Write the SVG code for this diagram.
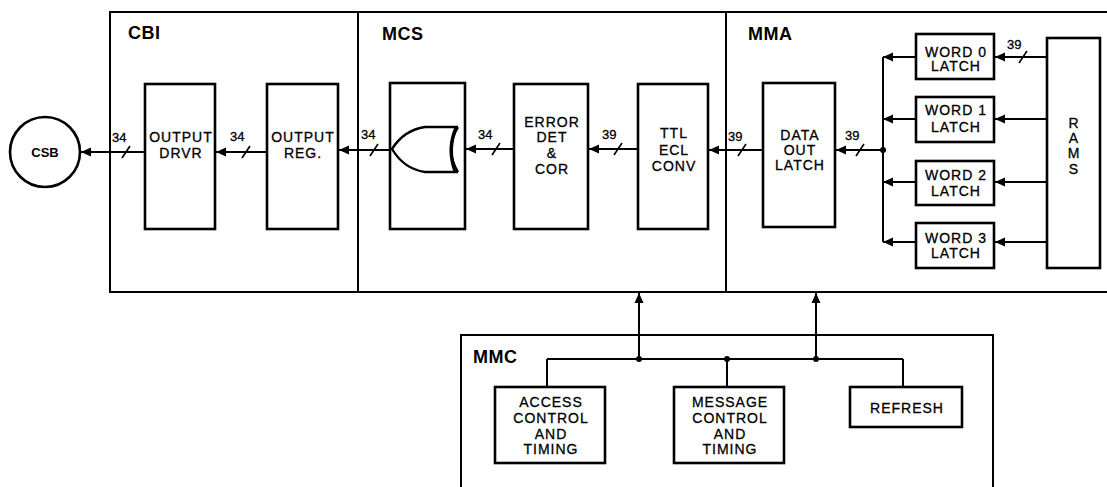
<svg xmlns="http://www.w3.org/2000/svg" width="1107" height="487" viewBox="0 0 1107 487">
<defs>
<marker id="ah" markerUnits="userSpaceOnUse" markerWidth="12" markerHeight="10" refX="10" refY="5" orient="auto">
<path d="M0,0.5 L10,5 L0,9.5 Z" fill="#000"/>
</marker>
<style>
.frame{fill:none;stroke:#000;stroke-width:2}
.box{fill:#fff;stroke:#000;stroke-width:2.6}
.ln{fill:none;stroke:#000;stroke-width:2}
.arr{fill:none;stroke:#000;stroke-width:2;marker-end:url(#ah)}
.sl{stroke:#000;stroke-width:1.6}
.t{font-family:"Liberation Sans",Arial,sans-serif;font-size:14px;letter-spacing:1px;text-anchor:middle;fill:#000;stroke:#000;stroke-width:0.3}
.n{font-family:"Liberation Sans",Arial,sans-serif;font-size:13px;fill:#000;stroke:#000;stroke-width:0.3}
.h{font-family:"Liberation Sans",Arial,sans-serif;font-size:18px;font-weight:bold;letter-spacing:0.5px;fill:#000}
.dot{fill:#000}
</style>
</defs>
<rect width="1107" height="487" fill="#fff"/>

<g id="frames">
<path class="frame" d="M1107,12 H110 V292 H1107"/>
<line class="frame" x1="358" y1="12" x2="358" y2="292"/>
<line class="frame" x1="726" y1="12" x2="726" y2="292"/>
<text class="h" x="128" y="39">CBI</text>
<text class="h" x="382" y="40">MCS</text>
<text class="h" x="748" y="40">MMA</text>
</g>

<g id="mmc">
<path class="frame" d="M461,487 V335 H993 V487"/>
<text class="h" x="473" y="363">MMC</text>
</g>

<g id="connectors">
<line class="arr" x1="145" y1="152" x2="81" y2="152"/>
<line class="arr" x1="267" y1="152" x2="216" y2="152"/>
<line class="arr" x1="390" y1="150" x2="339" y2="150"/>
<line class="arr" x1="514" y1="149" x2="466" y2="149"/>
<line class="arr" x1="638" y1="149" x2="589" y2="149"/>
<line class="arr" x1="763" y1="150" x2="709" y2="150"/>
<line class="arr" x1="883" y1="150" x2="836" y2="150"/>
<line class="ln" x1="883" y1="57" x2="883" y2="242"/>
<circle class="dot" cx="883" cy="150" r="3"/>
<line class="arr" x1="916" y1="57" x2="883" y2="57"/>
<line class="arr" x1="916" y1="119" x2="883" y2="119"/>
<line class="arr" x1="916" y1="182" x2="883" y2="182"/>
<line class="arr" x1="916" y1="242" x2="883" y2="242"/>
<line class="arr" x1="1047" y1="57" x2="995" y2="57"/>
<line class="arr" x1="1047" y1="119" x2="995" y2="119"/>
<line class="arr" x1="1047" y1="182" x2="995" y2="182"/>
<line class="arr" x1="1047" y1="242" x2="995" y2="242"/>
<line class="sl" x1="122" y1="158" x2="130" y2="146"/>
<line class="sl" x1="242" y1="158" x2="250" y2="146"/>
<line class="sl" x1="370" y1="156" x2="378" y2="144"/>
<line class="sl" x1="492" y1="155" x2="500" y2="143"/>
<line class="sl" x1="614" y1="155" x2="622" y2="143"/>
<line class="sl" x1="738" y1="156" x2="746" y2="144"/>
<line class="sl" x1="856" y1="156" x2="864" y2="144"/>
<line class="sl" x1="1019" y1="63" x2="1027" y2="51"/>
<text class="n" x="112" y="142">34</text>
<text class="n" x="230" y="141">34</text>
<text class="n" x="361" y="139">34</text>
<text class="n" x="478" y="139">34</text>
<text class="n" x="602" y="139">39</text>
<text class="n" x="728" y="141">39</text>
<text class="n" x="845" y="140">39</text>
<text class="n" x="1007" y="49">39</text>
<line class="ln" x1="547" y1="359" x2="903" y2="359"/>
<line class="ln" x1="547" y1="359" x2="547" y2="387"/>
<line class="ln" x1="727" y1="359" x2="727" y2="387"/>
<line class="ln" x1="903" y1="359" x2="903" y2="387"/>
<line class="arr" x1="639" y1="359" x2="639" y2="293"/>
<line class="arr" x1="816" y1="359" x2="816" y2="293"/>
<circle class="dot" cx="639" cy="359" r="3"/>
<circle class="dot" cx="727" cy="359" r="3"/>
<circle class="dot" cx="816" cy="359" r="3"/>
</g>

<g id="csb">
<circle cx="45" cy="152" r="35" fill="#fff" stroke="#000" stroke-width="2.6"/>
<text class="t" x="45" y="157" style="font-weight:bold;font-size:13px;letter-spacing:0;stroke-width:0">CSB</text>
</g>

<g id="output-drvr">
<rect class="box" x="145" y="84" width="70" height="145"/>
<text class="t" x="181" y="142">OUTPUT</text>
<text class="t" x="181" y="158">DRVR</text>
</g>

<g id="output-reg">
<rect class="box" x="267" y="84" width="71" height="145"/>
<text class="t" x="303" y="142">OUTPUT</text>
<text class="t" x="303" y="158">REG.</text>
</g>

<g id="xor">
<rect class="box" x="390" y="83" width="75" height="146"/>
<path d="M458,127 H425 Q404,130 392,149 Q404,169 425,172 H458" fill="none" stroke="#000" stroke-width="2.4"/>
<path d="M458,127 Q444,149 458,172" fill="none" stroke="#000" stroke-width="2.4"/>
<path d="M456,128 Q447,149 455,171" fill="none" stroke="#000" stroke-width="3.5"/>
</g>

<g id="error-det">
<rect class="box" x="514" y="84" width="74" height="145"/>
<text class="t" x="552" y="127">ERROR</text>
<text class="t" x="552" y="142">DET</text>
<text class="t" x="552" y="158">&amp;</text>
<text class="t" x="552" y="174">COR</text>
</g>

<g id="ttl-ecl">
<rect class="box" x="638" y="84" width="70" height="145"/>
<text class="t" x="674" y="138">TTL</text>
<text class="t" x="674" y="155">ECL</text>
<text class="t" x="674" y="171">CONV</text>
</g>

<g id="data-out">
<rect class="box" x="763" y="83" width="72" height="144"/>
<text class="t" x="800" y="140">DATA</text>
<text class="t" x="800" y="155">OUT</text>
<text class="t" x="800" y="170">LATCH</text>
</g>

<g id="word0">
<rect class="box" x="916" y="34" width="78" height="45"/>
<text class="t" x="956" y="57">WORD 0</text>
<text class="t" x="956" y="71">LATCH</text>
</g>
<g id="word1">
<rect class="box" x="916" y="97" width="78" height="45"/>
<text class="t" x="956" y="115">WORD 1</text>
<text class="t" x="956" y="132">LATCH</text>
</g>
<g id="word2">
<rect class="box" x="916" y="161" width="78" height="44"/>
<text class="t" x="956" y="180">WORD 2</text>
<text class="t" x="956" y="196">LATCH</text>
</g>
<g id="word3">
<rect class="box" x="916" y="223" width="78" height="45"/>
<text class="t" x="956" y="243">WORD 3</text>
<text class="t" x="956" y="258">LATCH</text>
</g>

<g id="rams">
<rect class="box" x="1047" y="38" width="53" height="230"/>
<text class="t" x="1074" y="128">R</text>
<text class="t" x="1074" y="143">A</text>
<text class="t" x="1074" y="158">M</text>
<text class="t" x="1074" y="174">S</text>
</g>

<g id="access">
<rect class="box" x="495" y="387" width="110" height="76"/>
<text class="t" x="551" y="407">ACCESS</text>
<text class="t" x="551" y="423">CONTROL</text>
<text class="t" x="551" y="439">AND</text>
<text class="t" x="551" y="454">TIMING</text>
</g>

<g id="message">
<rect class="box" x="674" y="387" width="110" height="76"/>
<text class="t" x="730" y="407">MESSAGE</text>
<text class="t" x="730" y="423">CONTROL</text>
<text class="t" x="730" y="439">AND</text>
<text class="t" x="730" y="454">TIMING</text>
</g>

<g id="refresh">
<rect class="box" x="850" y="387" width="112" height="40"/>
<text class="t" x="907" y="413">REFRESH</text>
</g>
</svg>
